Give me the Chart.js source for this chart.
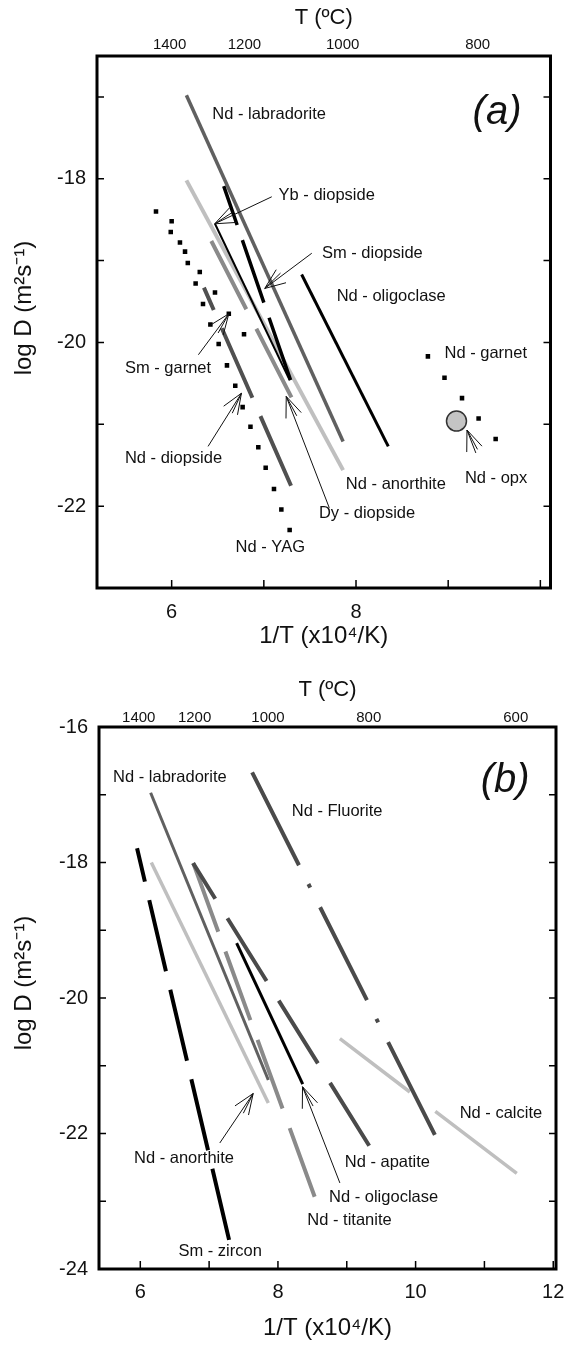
<!DOCTYPE html>
<html>
<head>
<meta charset="utf-8">
<script src="https://cdn.jsdelivr.net/npm/chart.js@4.4.1/dist/chart.umd.min.js"></script>
<style>
  html, body { margin: 0; padding: 0; background: #fff; }
  .panel { position: absolute; left: 0; width: 565px; }
  #panelA { top: 0; height: 655px; }
  #panelB { top: 655px; height: 692px; }
</style>
</head>
<body>
<div class="panel" id="panelA"><canvas id="chartA"></canvas></div>
<div class="panel" id="panelB"><canvas id="chartB"></canvas></div>
<script>
// ---------- panel (a): log D vs 1/T ----------
const aTempTicks = [1400, 1200, 1000, 800];
const aXLabels = [6, 8];
const aYLabels = [-18, -20, -22];
const aLabradorite = [[6.16, -16.98], [7.86, -21.21]];
const aAnorthite = [[6.16, -18.02], [7.86, -21.56]];
const aOligoclase = [[7.41, -19.17], [8.35, -21.27]];
const aDyDiopside = [[7.30, -20.67], [6.43, -18.76]];
const aSmDiopside = [[7.29, -20.46], [6.565, -18.09]];
const aYbDiopside = [[6.47, -18.55], [7.28, -20.46]];
const aNdDiopside = [[7.295, -21.75], [6.35, -19.33]];
const aNdYAG = [
    [6.00, -18.52], [6.09, -18.78], [6.175, -19.03], [6.26, -19.28],
    [6.34, -19.53], [6.42, -19.78], [6.51, -20.02], [6.60, -20.28],
    [6.69, -20.53], [6.77, -20.79], [6.855, -21.03], [6.94, -21.28],
    [7.02, -21.53], [7.11, -21.79], [7.19, -22.04], [7.28, -22.29]
];
const aSmGarnet = [
    [5.83, -18.40], [5.99, -18.65], [6.145, -18.89], [6.305, -19.14],
    [6.47, -19.39], [6.62, -19.65], [6.785, -19.90]
];
const aNdGarnet = [[8.78, -20.17], [8.96, -20.43], [9.15, -20.68], [9.33, -20.93], [9.515, -21.18]];
const aNdOpx = [[9.09, -20.96]];

// text notes: [text, x, y, align] and arrows: [tipX, tipY, tailX, tailY]
const aNotes = [
    ['Nd - labradorite', 6.44, -17.22, 'left'],
    ['Yb - diopside', 7.16, -18.20, 'left'],
    ['Sm - diopside', 7.63, -18.91, 'left'],
    ['Nd - oligoclase', 7.79, -19.44, 'left'],
    ['Sm - garnet', 5.96, -20.32, 'center'],
    ['Nd - diopside', 6.02, -21.42, 'center'],
    ['Nd - garnet', 8.96, -20.13, 'left'],
    ['Nd - anorthite', 7.89, -21.73, 'left'],
    ['Nd - opx', 9.52, -21.66, 'center'],
    ['Dy - diopside', 8.12, -22.09, 'center'],
    ['Nd - YAG', 7.07, -22.50, 'center']
];
const aArrows = [
    [6.467, -18.55, 7.086, -18.22],
    [7.01, -19.34, 7.52, -18.91],
    [6.62, -19.65, 6.29, -20.15],
    [6.757, -20.62, 6.395, -21.27],
    [7.243, -20.66, 7.71, -22.02],
    [9.204, -21.07, 9.30, -21.35]
];

// ---------- panel (b) ----------
const bTempTicks = [1400, 1200, 1000, 800, 600];
const bXLabels = [6, 8, 10, 12];
const bYLabels = [-16, -18, -20, -22, -24];
const bLabradorite = [[6.15, -16.97], [7.86, -21.21]];
const bAnorthite = [[6.16, -18.00], [7.86, -21.55]];
const bOligoclase = [[7.40, -19.19], [8.36, -21.27]];
const bFluorite = [[7.625, -16.67], [10.28, -22.02]];
const bCalcite = [[8.90, -20.60], [11.47, -22.59]];
const bZircon = [[7.29, -23.57], [5.953, -17.79]];
const bTitanite = [[6.77, -18.01], [8.557, -23.00]];
const bApatite = [[9.326, -22.18], [6.767, -18.01]];

const bNotes = [
    ['Nd - labradorite', 6.43, -16.74, 'center'],
    ['Nd - Fluorite', 8.86, -17.25, 'center'],
    ['Nd - calcite', 11.24, -21.70, 'center'],
    ['Nd - anorthite', 6.635, -22.37, 'center'],
    ['Nd - apatite', 9.59, -22.42, 'center'],
    ['Nd - oligoclase', 9.535, -22.94, 'center'],
    ['Nd - titanite', 9.04, -23.29, 'center'],
    ['Sm - zircon', 7.16, -23.74, 'center']
];
const bArrows = [
    [7.64, -21.41, 7.155, -22.14],
    [8.357, -21.31, 8.90, -22.73]
];

const FONT = "'Liberation Sans', Arial, sans-serif";
Chart.defaults.font.family = FONT;
Chart.defaults.color = '#111';

const DARK = '#505050', MID = '#8a8a8a', LIGHT = '#bfbfbf', BLACK = '#000';

const toXY = (pts) => pts.map(([x, y]) => ({ x: x, y: y }));

const line = (label, pts, color, width, dash) => ({
    label: label,
    data: toXY(pts),
    showLine: true,
    borderColor: color,
    borderWidth: width,
    borderDash: dash || [],
    borderCapStyle: 'butt',
    pointRadius: 0,
    fill: false
});

const dots = (label, pts) => ({
    label: label,
    data: toXY(pts),
    showLine: false,
    pointStyle: 'rect',
    pointRadius: 3.2,
    pointBackgroundColor: '#000',
    pointBorderWidth: 0
});

// whole-number ticks only, so the odd axis ends never eat a label
const integerTicks = (s) => {
    s.ticks = [];
    for (let v = Math.ceil(s.min); v <= Math.floor(s.max); v++) s.ticks.push({ value: v });
};

// inward ticks plus the heavy frame
const framePlugin = {
    id: 'frame',
    afterDraw(chart) {
        const { ctx, chartArea: a, scales: { x, y } } = chart;
        ctx.save();
        ctx.strokeStyle = '#000';
        ctx.lineWidth = 1.5;
        ctx.beginPath();
        y.ticks.forEach((t) => {
            if (t.value <= y.min || t.value >= y.max) return;
            const py = y.getPixelForValue(t.value);
            ctx.moveTo(a.left, py); ctx.lineTo(a.left + 7, py);
            ctx.moveTo(a.right, py); ctx.lineTo(a.right - 7, py);
        });
        x.ticks.forEach((t) => {
            if (t.value <= x.min || t.value >= x.max) return;
            const px = x.getPixelForValue(t.value);
            ctx.moveTo(px, a.bottom); ctx.lineTo(px, a.bottom - 8);
        });
        ctx.stroke();
        ctx.lineWidth = 3;
        ctx.strokeRect(a.left, a.top, a.right - a.left, a.bottom - a.top);
        ctx.restore();
    }
};

const makeNotes = (notes, arrows, tag, yTitleShift) => ({
    id: 'notes',
    afterDatasetsDraw(chart) {
        const { ctx, chartArea: area, scales: { x, y } } = chart;
        ctx.save();
        ctx.strokeStyle = '#111';
        ctx.lineWidth = 1;
        arrows.forEach(([tx, ty, sx, sy]) => {
            const px = x.getPixelForValue(tx), py = y.getPixelForValue(ty);
            const qx = x.getPixelForValue(sx), qy = y.getPixelForValue(sy);
            const ang = Math.atan2(qy - py, qx - px);
            ctx.beginPath();
            ctx.moveTo(qx, qy);
            ctx.lineTo(px, py);
            [-0.38, -0.13, 0.38].forEach((d) => {
                ctx.moveTo(px, py);
                ctx.lineTo(px + 22 * Math.cos(ang + d), py + 22 * Math.sin(ang + d));
            });
            ctx.stroke();
        });
        ctx.fillStyle = '#111';
        ctx.textBaseline = 'middle';
        ctx.font = '16.5px ' + FONT;
        notes.forEach(([text, lx, ly, align]) => {
            ctx.textAlign = align;
            ctx.fillText(text, x.getPixelForValue(lx), y.getPixelForValue(ly));
        });
        ctx.font = 'italic 40px ' + FONT;
        ctx.textAlign = 'center';
        ctx.fillText(tag.text, x.getPixelForValue(tag.x), y.getPixelForValue(tag.y));

        // y axis title, sits a little above the middle of the frame like the original
        ctx.translate(24, (area.top + area.bottom) / 2 + yTitleShift);
        ctx.rotate(-Math.PI / 2);
        ctx.font = '24px ' + FONT;
        ctx.fillText('log D (m²s⁻¹)', 0, 0);
        ctx.restore();
    }
});

const buildOptions = (o) => ({
    responsive: true,
    maintainAspectRatio: false,
    animation: false,
    layout: { padding: { right: o.padRight } },
    plugins: { legend: { display: false }, tooltip: { enabled: false } },
    scales: {
        x: {
            type: 'linear',
            position: 'bottom',
            min: o.xmin, max: o.xmax,
            grid: { display: false, drawTicks: false },
            border: { display: false },
            afterBuildTicks: integerTicks,
            ticks: {
                autoSkip: false,
                maxRotation: 0,
                padding: o.xTickPad,
                font: { size: 20 },
                color: '#111',
                callback: (v) => (o.xLabels.includes(v) ? String(v) : '')
            },
            title: { display: true, text: '1/T (x10⁴/K)', font: { size: 24 }, color: '#111', padding: { top: 0, bottom: o.xTitlePad } },
            afterFit: (s) => { s.height = o.bottomH; s.paddingLeft = 0; s.paddingRight = 0; }
        },
        x2: {
            type: 'linear',
            position: 'top',
            min: o.xmin, max: o.xmax,
            grid: { display: false, drawTicks: false },
            border: { display: false },
            afterBuildTicks: (s) => { s.ticks = o.temps.map((t) => ({ value: 1e4 / (t + 273) })); },
            ticks: {
                autoSkip: false,
                maxRotation: 0,
                padding: o.topTickPad,
                font: { size: 15 },
                color: '#111',
                callback: (v, i) => String(o.temps[i])
            },
            title: { display: true, text: 'T (ºC)', font: { size: 22 }, color: '#111', padding: { top: o.topTitlePad, bottom: 0 } },
            afterFit: (s) => { s.height = o.topH; s.paddingLeft = 0; s.paddingRight = 0; }
        },
        y: {
            type: 'linear',
            position: 'left',
            min: o.ymin, max: o.ymax,
            grid: { display: false, drawTicks: false },
            border: { display: false },
            afterBuildTicks: integerTicks,
            ticks: {
                autoSkip: false,
                padding: 11,
                font: { size: 20 },
                color: '#111',
                callback: (v) => (o.yLabels.includes(v) ? String(v) : '')
            },
            title: { display: false },
            afterFit: (s) => { s.width = o.leftW; s.paddingTop = 0; s.paddingBottom = 0; }
        }
    }
});

new Chart(document.getElementById('chartA'), {
    type: 'scatter',
    data: {
        datasets: [
            dots('Nd - YAG', aNdYAG),
            dots('Sm - garnet', aSmGarnet),
            dots('Nd - garnet', aNdGarnet),
            {
                label: 'Nd - opx',
                data: toXY(aNdOpx),
                pointRadius: 10,
                pointBackgroundColor: '#c4c4c4',
                pointBorderColor: '#333',
                pointBorderWidth: 1.5
            },
            line('Sm - diopside', aSmDiopside, BLACK, 3.5, [66, 16]),
            line('Yb - diopside', aYbDiopside, BLACK, 2),
            line('Nd - diopside', aNdDiopside, DARK, 4, [76, 20]),
            line('Dy - diopside', aDyDiopside, MID, 4, [77, 22]),
            line('Nd - oligoclase', aOligoclase, BLACK, 3),
            line('Nd - labradorite', aLabradorite, '#606060', 3.5),
            line('Nd - anorthite', aAnorthite, LIGHT, 4)
        ]
    },
    options: buildOptions({
        xmin: 5.19, xmax: 10.11, ymin: -23, ymax: -16.5,
        temps: aTempTicks, xLabels: aXLabels, yLabels: aYLabels, padRight: 14.5, leftW: 97,
        topH: 56, bottomH: 67, xTickPad: 12, xTitlePad: 4, topTickPad: 2, topTitlePad: 5
    }),
    plugins: [framePlugin, makeNotes(aNotes, aArrows, { text: '(a)', x: 9.53, y: -17.19 }, -14)]
});

new Chart(document.getElementById('chartB'), {
    type: 'scatter',
    data: {
        datasets: [
            line('Sm - zircon', bZircon, BLACK, 4, [73, 19]),
            line('Nd - oligoclase', bOligoclase, BLACK, 3),
            line('Nd - apatite', bApatite, '#4a4a4a', 4, [74, 23]),
            line('Nd - titanite', bTitanite, MID, 4, [73, 21]),
            line('Nd - Fluorite', bFluorite, '#4a4a4a', 4, [104, 21, 4, 22]),
            line('Nd - labradorite', bLabradorite, '#606060', 3),
            line('Nd - anorthite', bAnorthite, LIGHT, 3.5),
            line('Nd - calcite', bCalcite, LIGHT, 3.5, [88, 32, 200])
        ]
    },
    options: buildOptions({
        xmin: 5.4, xmax: 12.04, ymin: -24, ymax: -16,
        temps: bTempTicks, xLabels: bXLabels, yLabels: bYLabels, padRight: 9, leftW: 99,
        topH: 72, bottomH: 78, xTickPad: 11, xTitlePad: 4, topTickPad: 0, topTitlePad: 22
    }),
    plugins: [framePlugin, makeNotes(bNotes, bArrows, { text: '(b)', x: 11.30, y: -16.79 }, -15)]
});
</script>
</body>
</html>
